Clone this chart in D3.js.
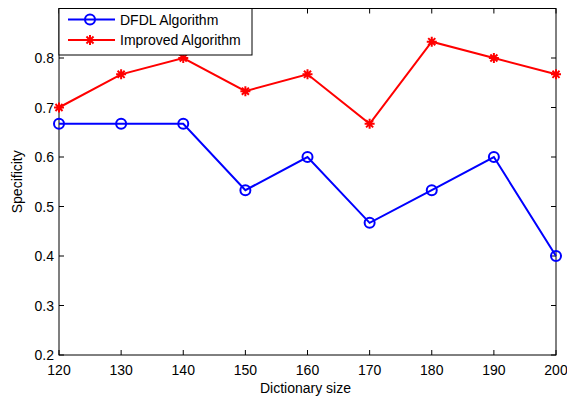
<!DOCTYPE html>
<html>
<head>
<meta charset="utf-8">
<script src="https://cdn.jsdelivr.net/npm/d3@7/dist/d3.min.js"></script>
<style>
  html, body { margin: 0; padding: 0; background: #fff; }
  svg { display: block; font-family: "Liberation Sans", Arial, sans-serif; }
</style>
</head>
<body>
<svg id="chart" width="567" height="399"></svg>
<script>
// Dictionary sizes on the x axis
const dictSizes = [120, 130, 140, 150, 160, 170, 180, 190, 200];
// Specificity of each method
const dfdlValues = [0.667, 0.667, 0.667, 0.533, 0.600, 0.467, 0.533, 0.600, 0.400];
const improvedValues = [0.700, 0.767, 0.800, 0.733, 0.767, 0.667, 0.833, 0.800, 0.767];
// Axis ticks
const xTicks = [120, 130, 140, 150, 160, 170, 180, 190, 200];
const yTicks = [0.2, 0.3, 0.4, 0.5, 0.6, 0.7, 0.8, 0.9];
const yTickLabels = ["0.2", "0.3", "0.4", "0.5", "0.6", "0.7", "0.8", ""];
const seriesNames = ["DFDL Algorithm", "Improved Algorithm"];

const svg = d3.select("#chart");
const plotLeft = 59, plotRight = 556, plotTop = 8.5, plotBottom = 355;
const fontSize = 14;

const x = d3.scaleLinear().domain([120, 200]).range([plotLeft, plotRight]);
const y = d3.scaleLinear().domain([0.2, 0.9]).range([plotBottom, plotTop]);

const tickLen = 5;
const g = svg.append("g");

// Frame
g.append("rect").attr("x", plotLeft).attr("y", plotTop)
  .attr("width", plotRight - plotLeft).attr("height", plotBottom - plotTop)
  .attr("fill", "#fff").attr("stroke", "#000").attr("stroke-width", 1);

// x ticks (inward, bottom and top)
xTicks.forEach(t => {
  g.append("line").attr("x1", x(t)).attr("x2", x(t)).attr("y1", plotBottom).attr("y2", plotBottom - tickLen).attr("stroke", "#000");
  g.append("line").attr("x1", x(t)).attr("x2", x(t)).attr("y1", plotTop).attr("y2", plotTop + tickLen).attr("stroke", "#000");
  g.append("text").attr("x", x(t)).attr("y", plotBottom + 20).attr("text-anchor", "middle")
    .attr("font-size", fontSize).text(t);
});

// y ticks (inward, left and right)
yTicks.forEach((t, i) => {
  g.append("line").attr("x1", plotLeft).attr("x2", plotLeft + tickLen).attr("y1", y(t)).attr("y2", y(t)).attr("stroke", "#000");
  g.append("line").attr("x1", plotRight).attr("x2", plotRight - tickLen).attr("y1", y(t)).attr("y2", y(t)).attr("stroke", "#000");
  if (yTickLabels[i]) {
    g.append("text").attr("x", plotLeft - 5).attr("y", y(t) + 5).attr("text-anchor", "end")
      .attr("font-size", fontSize).text(yTickLabels[i]);
  }
});

// Axis titles
g.append("text").attr("x", (plotLeft + plotRight) / 2 - 2).attr("y", 393).attr("text-anchor", "middle")
  .attr("font-size", fontSize).text("Dictionary size");
g.append("text").attr("transform", `translate(22,${(plotTop + plotBottom) / 2}) rotate(-90)`)
  .attr("text-anchor", "middle").attr("font-size", fontSize).text("Specificity");

const line = d3.line().x(d => x(d[0])).y(d => y(d[1]));

function asterisk(sel, cx, cy, r, color) {
  const a = r * 0.7071;
  const p = `M${cx - r},${cy}L${cx + r},${cy}M${cx},${cy - r}L${cx},${cy + r}` +
            `M${cx - a},${cy - a}L${cx + a},${cy + a}M${cx - a},${cy + a}L${cx + a},${cy - a}`;
  sel.append("path").attr("d", p).attr("stroke", color).attr("stroke-width", 2).attr("fill", "none");
}

// DFDL series
const dfdl = dictSizes.map((d, i) => [d, dfdlValues[i]]);
g.append("path").datum(dfdl).attr("d", line).attr("fill", "none").attr("stroke", "#0000ff").attr("stroke-width", 2);
g.selectAll(".dot").data(dfdl).enter().append("circle")
  .attr("cx", d => x(d[0])).attr("cy", d => y(d[1])).attr("r", 5)
  .attr("fill", "none").attr("stroke", "#0000ff").attr("stroke-width", 2);

// Improved series
const imp = dictSizes.map((d, i) => [d, improvedValues[i]]);
g.append("path").datum(imp).attr("d", line).attr("fill", "none").attr("stroke", "#ff0000").attr("stroke-width", 2);
imp.forEach(d => asterisk(g, x(d[0]), y(d[1]), 5, "#ff0000"));

// Legend
const lg = svg.append("g");
lg.append("rect").attr("x", plotLeft).attr("y", plotTop).attr("width", 193).attr("height", 46.5)
  .attr("fill", "#fff").attr("stroke", "#000").attr("stroke-width", 1);
const rows = [{ y: 19.5, color: "#0000ff", type: "circle" }, { y: 40, color: "#ff0000", type: "star" }];
rows.forEach((r, i) => {
  lg.append("line").attr("x1", 68).attr("x2", 115).attr("y1", r.y).attr("y2", r.y)
    .attr("stroke", r.color).attr("stroke-width", 2);
  if (r.type === "circle") {
    lg.append("circle").attr("cx", 90).attr("cy", r.y).attr("r", 5)
      .attr("fill", "none").attr("stroke", r.color).attr("stroke-width", 2);
  } else {
    asterisk(lg, 90, r.y, 5, r.color);
  }
  lg.append("text").attr("x", 120).attr("y", r.y + 5).attr("font-size", fontSize).text(seriesNames[i]);
});
</script>
</body>
</html>
